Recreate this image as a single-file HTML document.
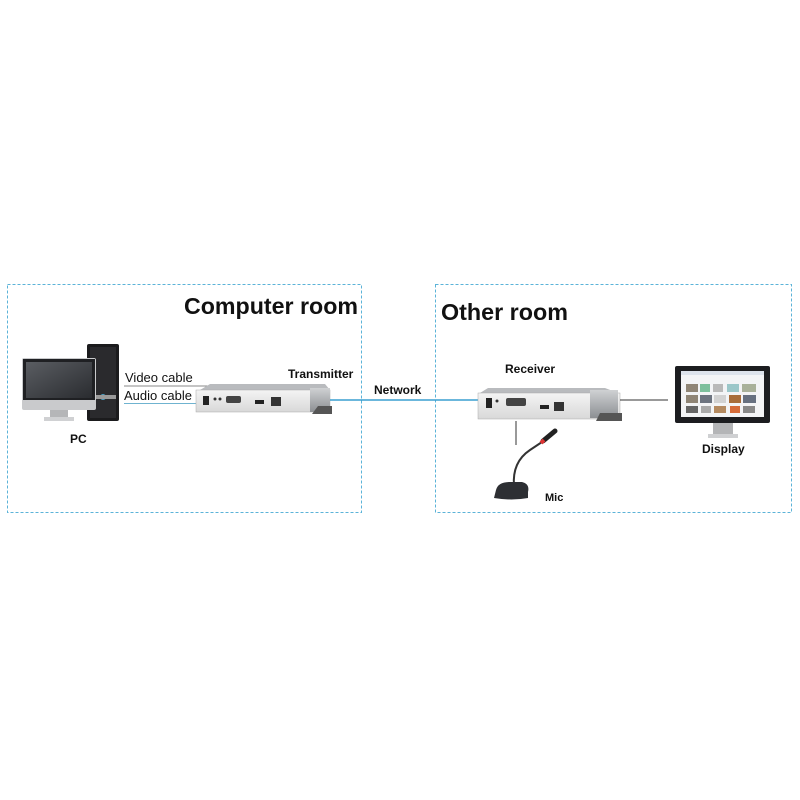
<!DOCTYPE html>
<html><head><meta charset="utf-8"><style>
html,body{margin:0;padding:0;background:#fff;}
svg{display:block;font-family:"Liberation Sans",sans-serif;}
</style></head><body>
<svg width="800" height="800" viewBox="0 0 800 800">
<defs>
<linearGradient id="box" x1="0" y1="0" x2="0" y2="1"><stop offset="0" stop-color="#cfd1d3"/><stop offset="1" stop-color="#8c8f93"/></linearGradient>
<linearGradient id="front" x1="0" y1="0" x2="0" y2="1"><stop offset="0" stop-color="#f4f4f4"/><stop offset="1" stop-color="#d8d8d8"/></linearGradient>
<linearGradient id="scr" x1="0" y1="0" x2="1" y2="1"><stop offset="0" stop-color="#5a5d62"/><stop offset="1" stop-color="#2a2c30"/></linearGradient>
</defs>
<rect x="7.5" y="284.5" width="354" height="228" fill="none" stroke="#5bb3d8" stroke-dasharray="3,2"/>
<rect x="435.5" y="284.5" width="356" height="228" fill="none" stroke="#5bb3d8" stroke-dasharray="3,2"/>
<text x="184" y="314" font-size="23" font-weight="bold" fill="#111" textLength="174" lengthAdjust="spacingAndGlyphs">Computer room</text>
<text x="441" y="320" font-size="23" font-weight="bold" fill="#111" textLength="127" lengthAdjust="spacingAndGlyphs">Other room</text>

<!-- PC -->
<rect x="87" y="344" width="32" height="77" rx="2" fill="#1b1b1d"/>
<rect x="90" y="347" width="26" height="71" fill="#2a2a2d"/>
<rect x="22" y="358" width="74" height="52" rx="2" fill="#c9cacc"/>
<rect x="23" y="359" width="72" height="41" fill="#1f2023"/>
<rect x="26" y="362" width="66" height="36" fill="url(#scr)"/>
<rect x="50" y="410" width="18" height="7" fill="#b5b6b8"/>
<rect x="44" y="417" width="30" height="4" fill="#d0d1d3"/>
<circle cx="103" cy="397" r="3" fill="#4aa3c8"/>
<rect x="96" y="395" width="20" height="4" fill="#9a9a9a"/>
<text x="70" y="443" font-size="12" font-weight="bold" fill="#111">PC</text>

<text x="125" y="382" font-size="13" fill="#111">Video cable</text>
<line x1="124" y1="386" x2="210" y2="386" stroke="#888" stroke-width="1"/>
<text x="124" y="400" font-size="13" fill="#111">Audio cable</text>
<line x1="124" y1="403.5" x2="196" y2="403.5" stroke="#6fb3d0" stroke-width="1"/>

<!-- Transmitter -->
<polygon points="200,390 210,384 325,384 330,390" fill="#b9bbbe"/>
<rect x="196" y="390" width="134" height="22" fill="url(#front)" stroke="#aaa" stroke-width="0.5"/>
<polygon points="310,388 330,388 330,412 310,412" fill="url(#box)"/>
<polygon points="318,406 332,406 332,414 312,414" fill="#555"/>
<rect x="203" y="396" width="6" height="9" fill="#222"/>
<circle cx="215" cy="399" r="1.5" fill="#333"/><circle cx="220" cy="399" r="1.5" fill="#333"/>
<rect x="226" y="396" width="15" height="7" rx="2" fill="#444"/>
<rect x="255" y="400" width="9" height="4" fill="#222"/>
<rect x="271" y="397" width="10" height="9" fill="#333"/>
<text x="288" y="378" font-size="12" font-weight="bold" fill="#111">Transmitter</text>

<line x1="330" y1="400" x2="479" y2="400" stroke="#3a9fd0" stroke-width="1.5"/>
<text x="374" y="394" font-size="12" font-weight="bold" fill="#111">Network</text>

<!-- Receiver -->
<polygon points="480,393 488,388 605,388 618,393" fill="#b9bbbe"/>
<rect x="478" y="393" width="142" height="26" fill="url(#front)" stroke="#aaa" stroke-width="0.5"/>
<polygon points="590,390 618,390 618,418 590,418" fill="url(#box)"/>
<polygon points="600,413 622,413 622,421 596,421" fill="#555"/>
<rect x="486" y="398" width="6" height="10" fill="#222"/>
<circle cx="497" cy="401" r="1.5" fill="#333"/>
<rect x="506" y="398" width="20" height="8" rx="2" fill="#444"/>
<rect x="540" y="405" width="9" height="4" fill="#222"/>
<rect x="554" y="402" width="10" height="9" fill="#333"/>
<text x="505" y="373" font-size="12" font-weight="bold" fill="#111">Receiver</text>
<line x1="620" y1="400" x2="668" y2="400" stroke="#333" stroke-width="1"/>

<!-- Display -->
<rect x="675" y="366" width="95" height="57" rx="2" fill="#1c1d20"/>
<rect x="681" y="371" width="83" height="46" fill="#f3f4f6"/>
<rect x="681" y="371" width="83" height="4" fill="#dde3ec"/>
<g fill="#8f8576">
<rect x="686" y="384" width="12" height="8"/><rect x="700" y="384" width="10" height="8" fill="#7cbf9c"/><rect x="713" y="384" width="10" height="8" fill="#b9b9b9"/><rect x="727" y="384" width="12" height="8" fill="#9bc7c9"/><rect x="742" y="384" width="14" height="8" fill="#a9b19a"/>
<rect x="686" y="395" width="12" height="8"/><rect x="700" y="395" width="12" height="8" fill="#6d7480"/><rect x="714" y="395" width="12" height="8" fill="#d2d2d2"/><rect x="729" y="395" width="12" height="8" fill="#a86d3a"/><rect x="743" y="395" width="13" height="8" fill="#667080"/>
<rect x="686" y="406" width="12" height="7" fill="#666"/><rect x="701" y="406" width="10" height="7" fill="#aaa"/><rect x="714" y="406" width="12" height="7" fill="#b48a60"/><rect x="730" y="406" width="10" height="7" fill="#d66c3a"/><rect x="743" y="406" width="12" height="7" fill="#888"/>
</g>
<rect x="713" y="423" width="20" height="11" fill="#b4b5b7"/>
<rect x="708" y="434" width="30" height="4" fill="#cfd0d2"/>
<text x="702" y="453" font-size="12" font-weight="bold" fill="#111">Display</text>

<!-- Mic -->
<line x1="516" y1="421" x2="516" y2="445" stroke="#333" stroke-width="1"/>
<path d="M514 486 Q512 462 530 450 L545 440" fill="none" stroke="#333" stroke-width="2"/>
<line x1="543" y1="441" x2="555" y2="431" stroke="#222" stroke-width="5" stroke-linecap="round"/>
<line x1="541" y1="443" x2="544" y2="440" stroke="#d33" stroke-width="4"/>
<path d="M496 490 Q498 482 510 482 L522 482 Q530 484 528 492 L528 498 Q512 501 494 498 Z" fill="#2d2f33"/>
<text x="545" y="501" font-size="11" font-weight="bold" fill="#111">Mic</text>
</svg>
</body></html>
